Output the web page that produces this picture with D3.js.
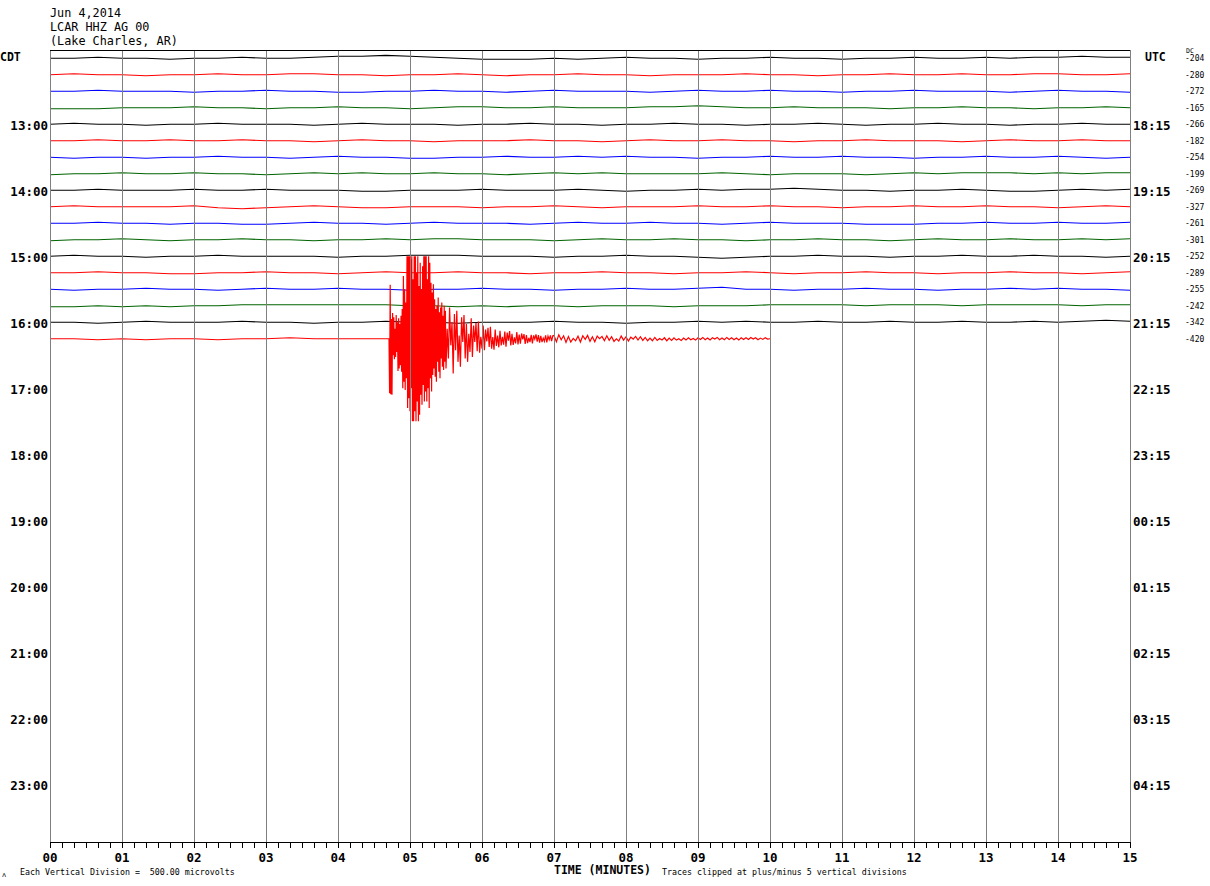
<!DOCTYPE html>
<html><head><meta charset="utf-8">
<script src="https://cdn.jsdelivr.net/npm/d3@7"></script>
<style>body{margin:0;background:#fff}svg{display:block}</style>
</head><body>
<svg id="c" width="1210" height="886"></svg>
<script>
// ---------- DATA ----------
const headerLines = ["Jun 4,2014", "LCAR HHZ AG 00", "(Lake Charles, AR)"];
const cdtLabels = ["13:00","14:00","15:00","16:00","17:00","18:00","19:00","20:00","21:00","22:00","23:00"];
const utcLabels = ["18:15","19:15","20:15","21:15","22:15","23:15","00:15","01:15","02:15","03:15","04:15"];
const dcValues = [-204,-280,-272,-165,-266,-182,-254,-199,-269,-327,-261,-301,-252,-289,-255,-242,-342,-420];
const traceColors = ["#000000","#ff0000","#0000ff","#006400"];
const minuteLabels = d3.range(0, 16);
const rowCount = 48;            // 15-minute rows from 12:15 to 24:00 CDT
const rowSeconds = 900;
const microvoltsPerDivision = 500;
const clipDivisions = 5;
const sampleStep = 20;          // seconds between samples of the quiet rows

// quiet rows, microvolts relative to each row's DC level, one value every 20 s
const row00 = [0,0,30,0,0,-30,0,0,30,0, 0,30,60,60,90,60,30,0,-30,-30, -30,0,-30,0,30,0,0,-30,0,0, 30,0,0,-30,0,0,30,0,0,30, 0,30,30,60,30,30];
const row01 = [0,30,0,0,-30,0,0,30,0,0, 30,30,0,0,-30,0,0,30,0,-30, 0,0,30,0,0,-30,0,0,0,30, 0,0,-30,0,0,30,0,0,30,0, 0,30,30,0,0,30];
const row02 = [0,0,30,0,0,0,-30,0,0,30, 0,0,-30,-30,0,0,30,0,0,-30, 0,30,0,0,0,-30,0,30,0,0, 30,0,0,-30,0,0,30,0,0,0, -30,0,30,0,0,-30];
const row03 = [-30,-30,-30,0,0,0,30,0,0,-30, 0,0,30,0,0,-30,0,30,30,0, 0,30,0,0,0,30,30,60,30,0, 0,30,0,0,0,-30,0,0,30,0, 0,-30,0,0,30,0];
const row04 = [0,30,0,0,-30,0,0,30,0,0, 0,-30,0,30,0,0,0,-30,0,0, 30,0,0,-30,0,0,30,0,0,-30, 0,0,30,0,-30,0,0,30,0,0, -30,0,0,30,0,0];
const row05 = [0,0,30,0,0,30,0,0,30,0, 0,-30,0,30,0,0,-30,0,0,0, 30,0,0,-30,0,30,0,0,30,0, 0,-30,0,0,30,0,0,0,-30,0, 30,0,0,30,0,0];
const row06 = [0,-30,0,0,-30,0,0,30,0,0, -30,0,30,0,0,-30,-30,0,0,30, 0,0,30,0,30,0,0,-30,0,0, 30,0,0,30,0,0,-30,0,0,30, 0,0,30,0,-30,0];
const row07 = [-30,0,0,30,0,0,30,0,0,-30, 0,30,0,30,0,0,30,0,0,-30, 0,30,0,30,0,0,0,0,30,0, -30,0,0,0,-30,0,30,0,30,30, 30,0,30,0,30,30];
const row08 = [0,0,30,0,0,0,30,0,0,30, 0,0,0,-30,-30,0,0,0,30,0, 0,0,30,0,-30,0,0,30,0,30, 30,60,30,0,0,-30,0,0,30,0, -30,-30,0,30,0,30];
const row09 = [0,30,0,0,0,0,30,-30,-60,-30, 0,30,0,-30,-30,0,0,0,-30,0, 0,30,0,-30,0,0,0,30,0,0, 30,0,0,-30,0,0,30,0,0,30, 0,0,-30,0,30,0];
const row10 = [0,0,30,0,0,-30,0,0,-30,-30, 0,30,0,0,-30,0,30,0,0,0, -30,0,30,0,0,30,0,0,-30,0, 30,0,0,0,-30,-30,-30,0,0,30, 0,0,30,0,0,30];
const row11 = [-30,0,0,30,0,-30,0,0,30,0, 0,-30,0,0,30,0,30,30,0,0, 0,-30,0,30,0,0,30,0,0,-30, 0,0,30,0,0,-30,0,30,0,0, 30,0,0,30,0,30];
const row12 = [0,30,0,0,-30,0,0,30,0,0, 0,0,-30,0,0,30,30,30,0,0, 0,-30,0,0,30,0,0,-30,-60,-30, 0,0,30,0,0,-30,0,0,30,0, 0,30,0,0,-30,0];
const row13 = [0,0,30,0,0,-30,-30,0,0,30, 0,0,-30,0,30,0,0,30,0,0, -30,0,0,30,0,0,-30,0,0,30, 0,-30,0,0,30,0,0,-30,0,0, 30,0,0,-30,0,30];
const row14 = [0,-30,0,0,30,0,0,-30,0,30, 0,0,30,0,0,-30,0,0,30,0, 0,-30,0,0,30,0,0,30,60,0, 0,-30,0,0,30,0,0,-30,0,0, 30,0,30,0,0,-30];
const row15 = [-30,-30,0,-30,0,-30,0,0,30,30, 30,30,30,30,30,0,0,-30,0,-30, 0,0,-30,0,0,0,-30,0,0,0, 30,30,30,30,0,30,30,30,0,30, 30,30,30,0,30,30];
const row16 = [0,0,-30,0,30,0,0,0,30,0, 0,-30,0,0,30,0,0,-30,0,0, 0,30,0,0,-30,0,0,30,0,30, 0,0,30,0,0,30,0,0,30,0, 0,30,0,30,60,30];
const quietRows = [row00,row01,row02,row03,row04,row05,row06,row07,row08,row09,row10,row11,row12,row13,row14,row15,row16];

// last (partial) row: 16:30 CDT, quiet part then the earthquake, ends at 10:00 min
const row17Quiet = [0,0,-30,0,-30,0,0,-30,0,0,30,0,0,0,0];      // 0..280 s, every 20 s
const quakeAStart = 282.5, quakeAStep = 0.5;
const quakeA = [0,-1650,1640,-1680,600,-1700,780,-500,650,-620,300,
  -550,720,-400,500,-980,620,-900,450,-800,700,
  -1000,900,-1500,1900,-1300,1500,-1550,1100,-1200,2600,
  -2100,2600,-1800,2700,-2200,2400,-1500,2800,-2500,1800,
  -2600,2700,-2200,2600,-2700,2000,-1900,2650,-2500,1600,
  -2300,2300,-1700,1500,-2000,2200,-1400,2700,-1900,2600,
  -1600,2500,-1900,1800,-1500,2600,-2100,2300,-1200,1700,
  -1600,1400,-1100,1650,-900,1200,-1150,900,-1300,1000,
  -700,1250,-1000,800,-1200,950,-600,1100,-850,700,
  -950,1000,-700,850];
const quakeBStart = 330, quakeBStep = 1;
const quakeB = [-900,300,-600,950,-200,500,-1050,750,-350,850,-700,100,
  -850,650,-100,720,-600,450,-700,150,-400,620,-550,400,-100,480,-380,520,
  -420,60,-300,400,-350,280,-80,330,-250,360,-300,50,-330,280,-220,100,-260,
  240,-200,60,-180,220,-240,190,-60,230,-200,150,-190,40,-140,200,-170,130,
  -150,160,-20,140,-160,110,-130,30,-100,120,-140,100,-10,130,-90,110,-120,90,
  -100,20,-80,100,-110,80,-30,100,-70,90];
const quakeCStart = 420, quakeCStep = 2;
const quakeC = [100,-90,120,-30,90,-110,70,-100,10,-60, 80,-100,90,-20,100,-80,60,-90,80,0,
  70,-60,90,-50,60,-80,0,-70,80,-40, 60,-70,50,-10,70,-40,60,-50,40,-60,
  20,-60,40,-50,10,-40,30,-60,20,-50, 30,-40,0,-50,20,-40,30,-30,10,-40,
  30,-20,40,-30,20,-40,30,-10,40,-30, 20,-30,40,-20,30,-30,20,-40,30,-20,
  30,-20,40,-10,30,-30,20,-20,30,-10];
const row17End = 600;

// ---------- DRAW ----------
const svg = d3.select("#c");
const mono = "'DejaVu Sans Mono', monospace";
const plot = {left: 50, right: 1130, top: 50, bottom: 842};

const x = d3.scaleLinear().domain([0, rowSeconds]).range([plot.left, plot.right]);
const rowY = d3.scaleLinear().domain([0, rowCount]).range([plot.top, plot.bottom]);
const divPx = rowY(1) - rowY(0);
const clipUV = clipDivisions * microvoltsPerDivision;
const amp = d3.scaleLinear().domain([-microvoltsPerDivision, microvoltsPerDivision]).range([divPx, -divPx]);
const center = i => rowY(i + 0.5);

// build row series
const series = quietRows.map(vals => vals.map((v, j) => ({t: j * sampleStep, v})));
const last = row17Quiet.map((v, j) => ({t: j * sampleStep, v}))
  .concat(quakeA.map((v, j) => ({t: quakeAStart + j * quakeAStep, v})))
  .concat(quakeB.map((v, j) => ({t: quakeBStart + j * quakeBStep, v})))
  .concat(quakeC.map((v, j) => ({t: quakeCStart + j * quakeCStep, v})));
last.push({t: row17End, v: 0});
series.push(last);

// traces
series.forEach((data, i) => {
  const cy = center(i);
  const line = d3.line()
    .x(d => x(d.t))
    .y(d => cy + amp(Math.max(-clipUV, Math.min(clipUV, d.v))))
    .curve(d3.curveLinear);
  svg.append("path").datum(data)
    .attr("d", line)
    .attr("fill", "none")
    .attr("stroke", traceColors[i % traceColors.length])
    .attr("stroke-width", 1.2);
});

// vertical minute gridlines (drawn over the traces)
svg.append("g").selectAll("line").data(minuteLabels).join("line")
  .attr("x1", d => x(d * 60)).attr("x2", d => x(d * 60))
  .attr("y1", plot.top).attr("y2", plot.bottom)
  .attr("stroke", "#808080").attr("stroke-width", 1).attr("shape-rendering", "crispEdges");

// top border
svg.append("line").attr("x1", plot.left).attr("x2", plot.right)
  .attr("y1", plot.top).attr("y2", plot.top)
  .attr("stroke", "#000").attr("shape-rendering", "crispEdges");

// bottom axis
const axis = d3.axisBottom(x)
  .tickValues(d3.range(0, rowSeconds + 1, 10))
  .tickSize(6).tickSizeOuter(0)
  .tickFormat(() => "");
const gAxis = svg.append("g").attr("transform", `translate(0,${plot.bottom})`).call(axis);
gAxis.select(".domain").attr("stroke", "#000").attr("shape-rendering", "crispEdges");
gAxis.selectAll(".tick line").attr("stroke", "#000").attr("shape-rendering", "crispEdges");

svg.append("g").selectAll("text").data(minuteLabels).join("text")
  .attr("x", d => x(d * 60)).attr("y", 862)
  .attr("text-anchor", "middle")
  .attr("font-family", mono).attr("font-size", 12.5).attr("font-weight", "bold")
  .text(d => d3.format("02d")(d));

// header
svg.append("g").selectAll("text").data(headerLines).join("text")
  .attr("x", 50).attr("y", (d, i) => 17 + i * 14.2)
  .attr("font-family", mono).attr("font-size", 11.8)
  .text(d => d);

// CDT / UTC titles
svg.append("text").attr("x", 0).attr("y", 61)
  .attr("font-family", mono).attr("font-size", 11.5).attr("font-weight", "bold").text("CDT");
svg.append("text").attr("x", 1145).attr("y", 61)
  .attr("font-family", mono).attr("font-size", 11.5).attr("font-weight", "bold").text("UTC");

// hour labels (every 4th row starting with row 4)
svg.append("g").selectAll("text").data(cdtLabels).join("text")
  .attr("x", 48).attr("y", (d, k) => center(4 * (k + 1)) + 5.5)
  .attr("text-anchor", "end")
  .attr("font-family", mono).attr("font-size", 12.5).attr("font-weight", "bold")
  .text(d => d);
svg.append("g").selectAll("text").data(utcLabels).join("text")
  .attr("x", 1133).attr("y", (d, k) => center(4 * (k + 1)) + 5.5)
  .attr("font-family", mono).attr("font-size", 12.5).attr("font-weight", "bold")
  .text(d => d);

// DC labels
svg.append("text").attr("x", 1186).attr("y", 53)
  .attr("font-family", mono).attr("font-size", 6.5).text("DC");
svg.append("g").selectAll("text").data(dcValues).join("text")
  .attr("x", 1185).attr("y", (d, i) => center(i) + 3)
  .attr("font-family", mono).attr("font-size", 8)
  .text(d => "-" + Math.abs(d));

// footer
svg.append("text").attr("x", 554).attr("y", 874)
  .attr("font-family", mono).attr("font-size", 11.5).attr("font-weight", "bold")
  .text("TIME (MINUTES)");
svg.append("text").attr("x", 662).attr("y", 875)
  .attr("font-family", mono).attr("font-size", 8.3)
  .text("Traces clipped at plus/minus 5 vertical divisions");
svg.append("text").attr("x", 20).attr("y", 875)
  .attr("font-family", mono).attr("font-size", 8.3)
  .attr("xml:space", "preserve").style("white-space", "pre")
  .text("Each Vertical Division =  " + d3.format(".2f")(microvoltsPerDivision) + " microvolts");
svg.append("text").attr("x", 2).attr("y", 877)
  .attr("font-family", mono).attr("font-size", 7).text("ʌ");
</script>
</body></html>
